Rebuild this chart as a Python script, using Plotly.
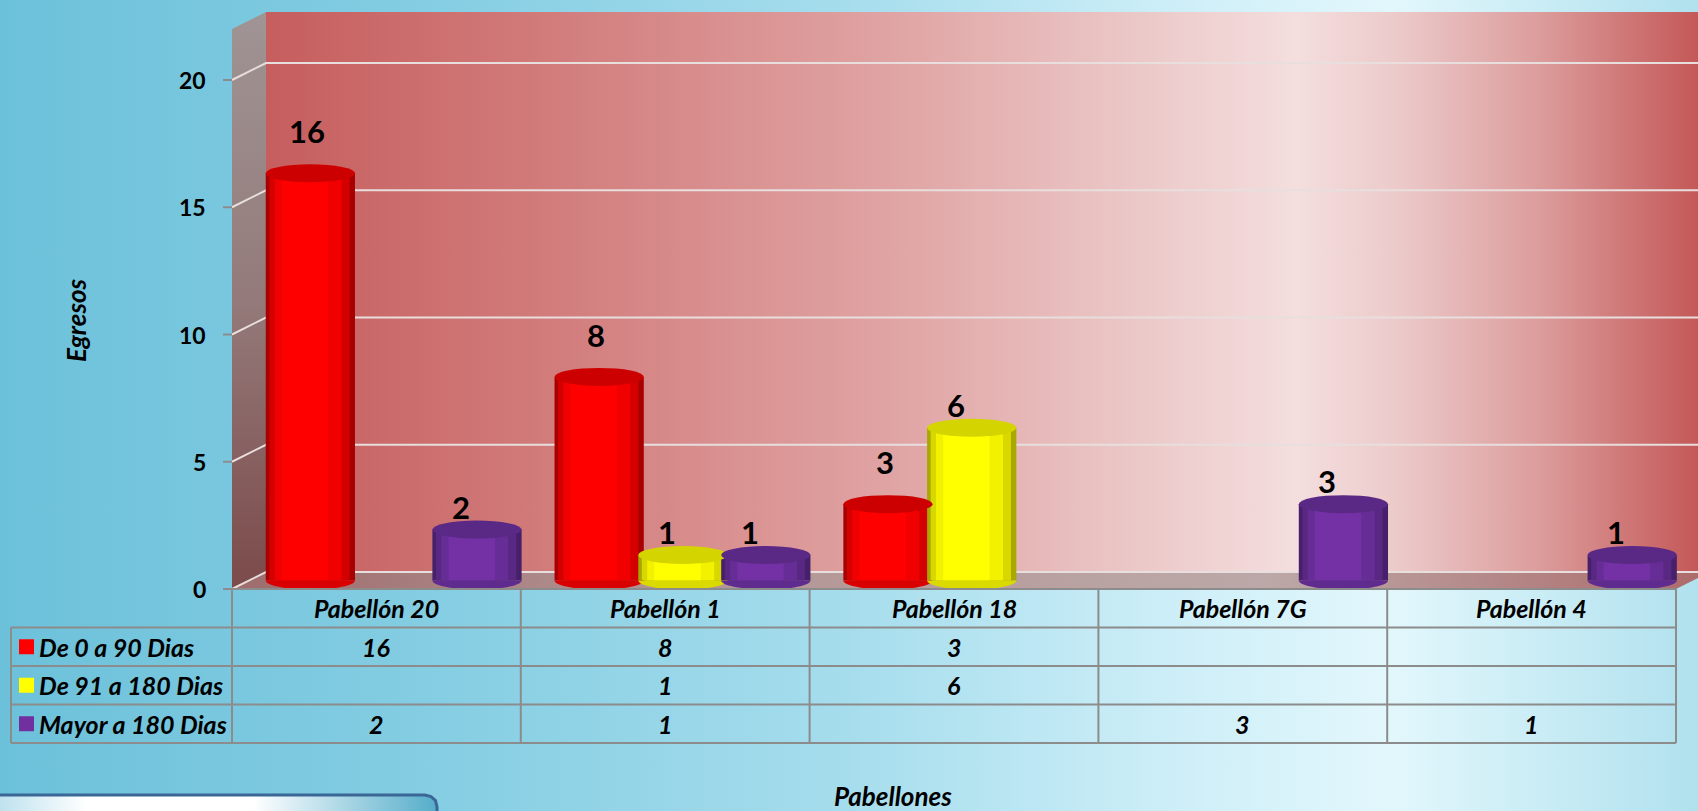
import plotly.graph_objects as go

W, H = 1698, 811

categories = ["Pabellón 20", "Pabellón 1", "Pabellón 18", "Pabellón 7G", "Pabellón 4"]
series_names = ["De 0 a 90 Dias", "De 91 a 180 Dias", "Mayor a 180 Dias"]
de_0_a_90 = [16, 8, 3, None, None]
de_91_a_180 = [None, 1, 6, None, None]
mayor_a_180 = [2, 1, None, 3, 1]
y_ticks = [0, 5, 10, 15, 20]

series_values = [de_0_a_90, de_91_a_180, mayor_a_180]

# legend colour, cylinder shading layers (edge -> highlight), top cap colour
styles = [
    dict(legend="#FF0000", layers=["#a80000", "#d40000", "#f00000", "#ff0000"], cap="#cc0000", bottom="#d80000", shift=(-3, 21)),
    dict(legend="#FFFF00", layers=["#a8a800", "#d8d800", "#f2f200", "#ffff00"], cap="#d4d400", bottom="#dada00", shift=(-16, 2)),
    dict(legend="#7030A0", layers=["#46206a", "#582882", "#662d96", "#7331a5"], cap="#5a2985", bottom="#602b8e", shift=(-16, 2)),
]
bar_offsets = [-0.442, -0.152, 0.135]
bar_width = 0.309
layer_cut = [(0.0, 1.0), (0.04, 0.90), (0.10, 0.75), (0.18, 0.52)]

# front plane geometry in pixels
X_LEFT, X_RIGHT = 232, 1676
Y_ZERO, PPU = 589, 25.45
DX, DY = 34, -17
TOP = 12
TABLE_LEFT = 11
ROW_H = 38.5
COL_W = (X_RIGHT - X_LEFT) / len(categories)
FONT = "Lato"

def py(v):
    return Y_ZERO - v * PPU

def col_x(i):
    return X_LEFT + COL_W * (i + 0.5)


fig = go.Figure()

def poly(xs, ys, grad_type, scale, start, stop, line=None):
    fig.add_trace(go.Scatter(
        x=xs + [xs[0]], y=ys + [ys[0]], xaxis="x", yaxis="y", mode="lines",
        fill="toself", line=line or dict(width=0, color="rgba(0,0,0,0)"),
        fillgradient=dict(type=grad_type, colorscale=scale, start=start, stop=stop),
        hoverinfo="skip", showlegend=False))

# slide background
poly([0, W, W, 0], [0, 0, H, H], "horizontal",
     [[0, "#6cc1da"], [0.25, "#84cde2"], [0.5, "#a6dded"], [0.7, "#cfeff8"], [0.82, "#e2f7fc"], [1, "#b0e1ee"]], 0, W)

# back wall, side wall, floor
poly([X_LEFT + DX, W, W, X_LEFT + DX], [TOP, TOP, Y_ZERO + DY, Y_ZERO + DY], "horizontal",
     [[0, "#c65e5e"], [0.2, "#d27c7c"], [0.45, "#e1a6a6"], [0.6, "#ebc6c6"], [0.72, "#f4dede"],
      [0.79, "#eccaca"], [0.89, "#dc9c9c"], [1, "#c45858"]],
     X_LEFT + DX, W)
poly([X_LEFT, X_LEFT + DX, X_LEFT + DX, X_LEFT], [TOP - DY, TOP, Y_ZERO + DY, Y_ZERO], "vertical",
     [[0, "#a09494"], [0.5, "#947a7a"], [1, "#7c4a4a"]], TOP, Y_ZERO)
poly([X_LEFT, X_LEFT + DX, X_RIGHT + DX, X_RIGHT], [Y_ZERO, Y_ZERO + DY, Y_ZERO + DY, Y_ZERO], "horizontal",
     [[0, "#9e6c6c"], [0.3, "#b39494"], [0.7, "#bca8a8"], [1, "#ad6a6a"]], X_LEFT, X_RIGHT + DX)

# gridlines on walls
gx, gy = [], []
for t in y_ticks:
    gx += [X_LEFT, X_LEFT + DX, W, None]
    gy += [py(t), py(t) + DY, py(t) + DY, None]
fig.add_trace(go.Scatter(x=gx, y=gy, xaxis="x", yaxis="y", mode="lines",
                         line=dict(color="#e8dede", width=2), hoverinfo="skip", showlegend=False))

# bottom-left box
bx = [-10, -10, 425, 431, 435.5, 437, 437]
by = [830, 795, 795, 796.6, 800.5, 807, 830]
poly(bx, by, "horizontal",
     [[0, "#bfe2ee"], [0.2, "#ffffff"], [0.58, "#ffffff"], [1, "#55adca"]], 0, 437,
     line=dict(color="#3b6796", width=3))

# cylinders
shapes = []
for s, vals in enumerate(series_values):
    st = styles[s]
    off = bar_offsets[s]
    for (cut, frac), color in zip(layer_cut, st["layers"]):
        fig.add_trace(go.Bar(
            x=list(range(len(categories))), y=vals, xaxis="x2", yaxis="y2",
            offset=off + cut * bar_width, width=frac * bar_width,
            marker=dict(color=color, line=dict(width=0)),
            name=series_names[s], showlegend=False, hoverinfo="skip"))

cap_h = 9 / PPU
for s, vals in enumerate(series_values):
    st = styles[s]
    off = bar_offsets[s]
    for i, v in enumerate(vals):
        if v is None:
            continue
        x0, x1 = i + off, i + off + bar_width
        xm, a = (x0 + x1) / 2, bar_width / 2
        k = 0.5523
        shapes.append(dict(
            type="path", xref="x2", yref="y2", layer="above", fillcolor=st["bottom"], line=dict(width=0),
            path=f"M {x0},0 C {x0},{-k*cap_h} {xm-k*a},{-cap_h} {xm},{-cap_h} "
                 f"C {xm+k*a},{-cap_h} {x1},{-k*cap_h} {x1},0 Z"))
        shapes.append(dict(type="circle", xref="x2", yref="y2", layer="above",
                           x0=x0, x1=x1, y0=v - cap_h, y1=v + cap_h,
                           fillcolor=st["cap"], line=dict(width=0)))

annotations = []
for s, vals in enumerate(series_values):
    st = styles[s]
    for i, v in enumerate(vals):
        if v is None:
            continue
        annotations.append(dict(
            x=i + bar_offsets[s] + bar_width / 2, y=v, xref="x2", yref="y2",
            text=str(v), showarrow=False, yanchor="bottom",
            xshift=st["shift"][0], yshift=st["shift"][1],
            font=dict(family=FONT, size=31, color="black", weight="bold")))

# y tick labels and tick marks
for t in y_ticks:
    annotations.append(dict(x=208, y=py(t), xref="x", yref="y", text=str(t), showarrow=False,
                            xanchor="right", font=dict(family=FONT, size=23, color="black", weight="bold")))
    shapes.append(dict(type="line", xref="x", yref="y", x0=223, x1=X_LEFT, y0=py(t), y1=py(t),
                       line=dict(color="#8c8c8c", width=2), layer="above"))

# data table
grid = dict(color="#8c8c8c", width=2)
rows_top = [Y_ZERO + ROW_H * r for r in range(len(series_names) + 2)]
shapes.append(dict(type="line", xref="x", yref="y", x0=X_LEFT, x1=X_RIGHT, y0=Y_ZERO, y1=Y_ZERO, line=grid, layer="above"))
for r in range(1, len(rows_top)):
    shapes.append(dict(type="line", xref="x", yref="y", x0=TABLE_LEFT, x1=X_RIGHT,
                       y0=rows_top[r], y1=rows_top[r], line=grid, layer="above"))
shapes.append(dict(type="line", xref="x", yref="y", x0=TABLE_LEFT, x1=TABLE_LEFT,
                   y0=rows_top[1], y1=rows_top[-1], line=grid, layer="above"))
for i in range(len(categories) + 1):
    xv = X_LEFT + COL_W * i
    shapes.append(dict(type="line", xref="x", yref="y", x0=xv, x1=xv,
                       y0=Y_ZERO, y1=rows_top[-1], line=grid, layer="above"))

cell_font = dict(family=FONT, size=25, color="black", weight="bold", style="italic")
for i, c in enumerate(categories):
    annotations.append(dict(x=col_x(i), y=Y_ZERO + ROW_H / 2, xref="x", yref="y", text=c,
                            showarrow=False, font=cell_font))
for s, vals in enumerate(series_values):
    yc = rows_top[s + 1] + ROW_H / 2
    shapes.append(dict(type="rect", xref="x", yref="y", x0=19, x1=34, y0=yc - 7.5, y1=yc + 7.5,
                       fillcolor=styles[s]["legend"], line=dict(width=0), layer="above"))
    annotations.append(dict(x=37, y=yc, xref="x", yref="y", text=series_names[s], xanchor="left",
                            showarrow=False, font=cell_font))
    for i, v in enumerate(vals):
        if v is None:
            continue
        annotations.append(dict(x=col_x(i), y=yc, xref="x", yref="y", text=str(v),
                                showarrow=False, font=cell_font))

# axis titles
title_font = dict(family=FONT, size=26, color="black", weight="bold", style="italic")
annotations.append(dict(x=76, y=320, xref="x", yref="y", text="Egresos", textangle=-90,
                        showarrow=False, font=title_font))
annotations.append(dict(x=893, y=796, xref="x", yref="y", text="Pabellones",
                        showarrow=False, font=title_font))

ymin = -0.6
bar_zero = Y_ZERO + DY / 2
ymax = (bar_zero - TOP) / PPU
hidden = dict(showgrid=False, zeroline=False, showticklabels=False, showline=False, ticks="", fixedrange=True)

fig.update_layout(
    width=W, height=H,
    margin=dict(l=0, r=0, t=0, b=0),
    paper_bgcolor="#9fd8e8", plot_bgcolor="rgba(0,0,0,0)",
    barmode="overlay",
    xaxis=dict(hidden, domain=[0, 1], range=[0, W]),
    yaxis=dict(hidden, domain=[0, 1], range=[H, 0]),
    xaxis2=dict(hidden, anchor="y2",
                domain=[(X_LEFT + DX / 2) / W, (X_RIGHT + DX / 2) / W],
                range=[-0.5, len(categories) - 0.5]),
    yaxis2=dict(hidden, anchor="x2",
                domain=[1 - (bar_zero - ymin * PPU) / H, 1 - TOP / H],
                range=[ymin, ymax]),
    shapes=shapes,
    annotations=annotations,
    showlegend=False,
)

fig.write_html("out.html", config={"displayModeBar": False},
               post_script="document.body.style.margin='0';document.body.style.overflow='hidden';")
